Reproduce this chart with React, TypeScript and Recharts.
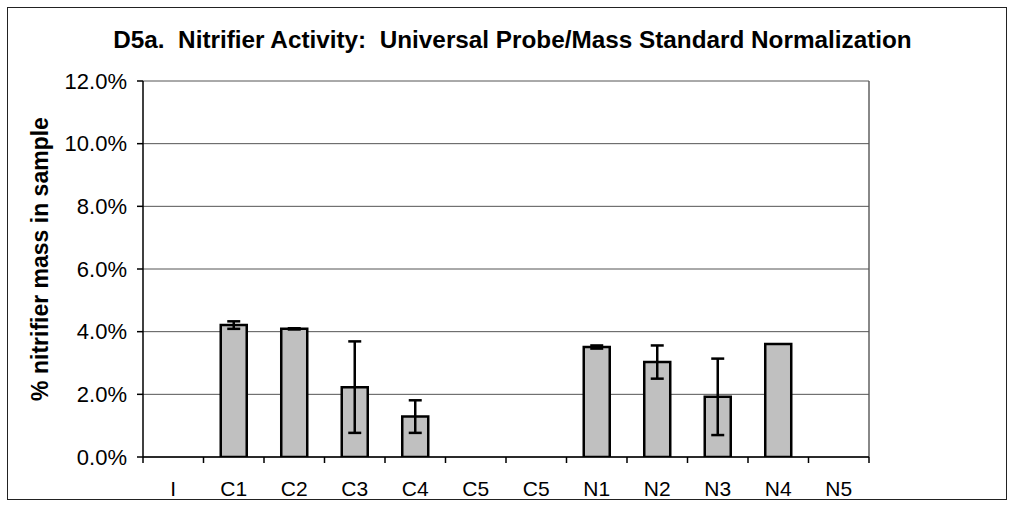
import React from "react";
import { BarChart, Bar, XAxis, YAxis, CartesianGrid, ErrorBar } from "recharts";

const categories = ["I", "C1", "C2", "C3", "C4", "C5", "C5", "N1", "N2", "N3", "N4", "N5"];
const values = [null, 4.21, 4.09, 2.23, 1.29, null, null, 3.51, 3.03, 1.92, 3.61, null];
const errors = [0, 0.12, 0.02, 1.46, 0.52, 0, 0, 0.05, 0.53, 1.22, 0, 0];
const yTicks = [0, 2, 4, 6, 8, 10, 12];

const data = categories.map((name, i) => ({ name, value: values[i], err: errors[i] }));

const font = "'Liberation Sans', Arial, sans-serif";

const YLabel = (props: any) => {
  const vb = props.viewBox;
  const x = vb.x + 32;
  const y = vb.y + vb.height / 2 - 10;
  return (
    <text x={x} y={y} transform={`rotate(-90, ${x}, ${y})`} textAnchor="middle" dominantBaseline="central"
      fontFamily={font} fontSize={23} fontWeight="bold" fill="#000">
      % nitrifier mass in sample
    </text>
  );
};

// category label in the middle, tick marks on the category boundaries
const XTick = (props: any) => {
  const { x, y, payload, index, visibleTicksCount } = props;
  const half = payload.offset || 0;
  return (
    <g>
      <line x1={x - half} y1={y} x2={x - half} y2={y + 6} stroke="#000" strokeWidth={1.5} />
      {index === visibleTicksCount - 1 && (
        <line x1={x + half} y1={y} x2={x + half} y2={y + 6} stroke="#000" strokeWidth={1.5} />
      )}
      <text x={x} y={y + 31} textAnchor="middle" dominantBaseline="central" fontFamily={font} fontSize={21} fill="#000">
        {payload.value}
      </text>
    </g>
  );
};

export default function App() {
  return (
    <div style={{ position: "absolute", left: 7, top: 7, width: 1000, height: 493, border: "1px solid #222", boxSizing: "border-box", background: "#fff" }}>
      <div style={{ position: "absolute", left: 11, right: 0, top: 18, lineHeight: "28px", textAlign: "center", fontFamily: font, fontSize: 24.3, fontWeight: "bold", whiteSpace: "pre" }}>
        D5a.  Nitrifier Activity:  Universal Probe/Mass Standard Normalization
      </div>
      <BarChart width={998} height={491} data={data} barCategoryGap="28.5%"
        margin={{ top: 73, right: 137, bottom: 0, left: 0 }}>
        <CartesianGrid horizontal={false} vertical stroke="#888" strokeWidth={2}
          verticalCoordinatesGenerator={({ offset }: any) => [offset.left + offset.width]} />
        <CartesianGrid horizontal vertical={false} stroke="#555" />
        <XAxis dataKey="name" height={42} axisLine={{ stroke: "#000", strokeWidth: 1.5 }} tickLine={false}
          tickSize={0} tickMargin={0} tick={<XTick />} interval={0} />
        <YAxis width={135} domain={[0, 12]} ticks={yTicks} allowDataOverflow
          tickFormatter={(v: number) => v.toFixed(1) + "%"}
          tick={{ fontFamily: font, fontSize: 22, fill: "#000" }} tickSize={6} tickMargin={10}
          axisLine={{ stroke: "#000", strokeWidth: 1.5 }} tickLine={{ stroke: "#000", strokeWidth: 1.5 }}
          label={<YLabel />} />
        <Bar dataKey="value" fill="#C0C0C0" stroke="#000" strokeWidth={2.5} isAnimationActive={false}>
          <ErrorBar dataKey="err" width={6.5} stroke="#000" strokeWidth={2.5} direction="y" />
        </Bar>
      </BarChart>
    </div>
  );
}
